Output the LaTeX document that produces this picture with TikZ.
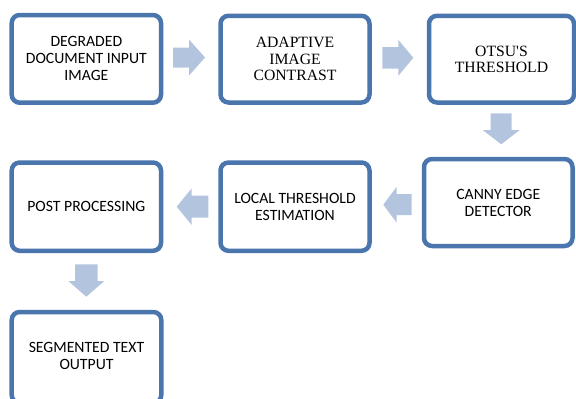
\documentclass[tikz,border=0pt]{standalone}
\usepackage{fontspec}
\newfontfamily\boxsans{Carlito}
\newfontfamily\boxserif{Liberation Serif}
\definecolor{boxline}{HTML}{4A75AD}
\definecolor{arrowfill}{HTML}{B3C4DE}
\tikzset{
  flowbox/.style={draw=boxline, line width=4.5pt, rounded corners=8pt, fill=white,
    align=center, inner sep=0pt, text=black},
  sanstext/.style={font=\boxsans\fontsize{15.7}{17}\selectfont},
  seriftext/.style={font=\boxserif\fontsize{15.7}{16.3}\selectfont},
  blockarrow/.style={fill=arrowfill, draw=none}
}
% right/left pointing block arrow: tail x, head base x, tip x, centre y, shaft half, head half
\newcommand\hblockarrow[6]{%
  \fill[blockarrow] (#1,#4-#5) -- (#2,#4-#5) -- (#2,#4-#6) -- (#3,#4) -- (#2,#4+#6) -- (#2,#4+#5) -- (#1,#4+#5) -- cycle;}
% down pointing block arrow: centre x, tail y, head base y, tip y, shaft half, head half
\newcommand\vblockarrow[6]{%
  \fill[blockarrow] (#1-#5,#2) -- (#1-#5,#3) -- (#1-#6,#3) -- (#1,#4) -- (#1+#6,#3) -- (#1+#5,#3) -- (#1+#5,#2) -- cycle;}
\begin{document}
\begin{tikzpicture}[x=1pt,y=-1pt]
\useasboundingbox (0,0) rectangle (576,399);
\clip (0,0) rectangle (576,399);
\node[flowbox, sanstext, minimum width=149.3pt, minimum height=87.7pt] (b1) at (86.35,58.85) {DEGRADED\\DOCUMENT INPUT\\IMAGE};
\node[flowbox, seriftext, minimum width=149pt, minimum height=86.7pt] (b2) at (295,59.15) {ADAPTIVE\\IMAGE\\CONTRAST};
\node[flowbox, seriftext, minimum width=145pt, minimum height=86.7pt] (b3) at (501.5,59.15) {OTSU'S\\THRESHOLD};
\node[flowbox, sanstext, minimum width=148.5pt, minimum height=87pt] (b4) at (498.25,202.5) {CANNY EDGE\\DETECTOR};
\node[flowbox, sanstext, minimum width=149pt, minimum height=88.3pt] (b5) at (295,206.65) {LOCAL THRESHOLD\\ESTIMATION};
\node[flowbox, sanstext, minimum width=149.3pt, minimum height=88.3pt] (b6) at (86.35,206.65) {POST PROCESSING};
\node[flowbox, sanstext, minimum width=149.6pt, minimum height=91pt] (b7) at (86.5,357.5) {};
\node[sanstext, align=center, inner sep=0pt] (t7) at (86.5,355.5) {SEGMENTED TEXT\\OUTPUT};
\hblockarrow{173}{189}{205}{57.5}{10}{18}
\hblockarrow{382.3}{398.3}{413.3}{57.8}{10.8}{18}
\vblockarrow{501.2}{113.3}{130}{144.3}{10.5}{18.6}
\hblockarrow{411.7}{396.7}{383.3}{204.7}{10.5}{18}
\hblockarrow{208.3}{191.7}{176.7}{206.7}{11}{18.3}
\vblockarrow{86.3}{264.3}{281}{296.7}{11.3}{18}
\end{tikzpicture}
\end{document}
